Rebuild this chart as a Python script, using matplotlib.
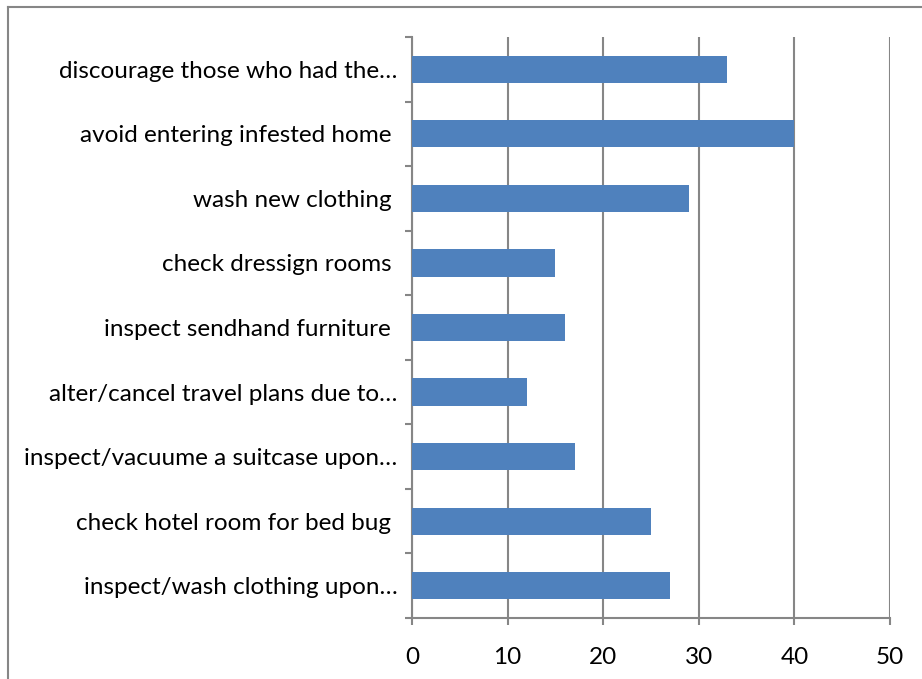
import matplotlib
matplotlib.use("Agg")
import matplotlib.pyplot as plt
from matplotlib.lines import Line2D
import numpy as np

categories = [
    "discourage those who had the\u2026",
    "avoid entering infested home ",
    "wash new clothing ",
    "check dressign rooms ",
    "inspect sendhand furniture ",
    "alter/cancel travel plans due to\u2026",
    "inspect/vacuume a suitcase upon\u2026",
    "check hotel room for bed bug ",
    "inspect/wash clothing upon\u2026",
]
values = [33, 40, 29, 15, 16, 12, 17, 25, 27]
xticks = [0, 10, 20, 30, 40, 50]

plt.rcParams['font.family'] = ['Lato', 'DejaVu Sans']

fig = plt.figure(figsize=(9.22, 6.79), dpi=100)
ax = fig.add_axes([412/922, 1-618/679, (890-412)/922, (618-37)/679])

n = len(categories)
y = np.arange(n)[::-1]
ax.barh(y, values, height=0.42, color='#4F81BD', zorder=3)
ax.set_xlim(0, 50)
ax.set_ylim(-0.5, n-0.5)
ax.set_xticks(xticks)
ax.set_xticklabels([str(t) for t in xticks], fontsize=17.5)
ax.set_yticks(y)
ax.set_yticklabels(categories, fontsize=17.5)
ax.set_yticks(np.arange(-0.5, n, 1.0), minor=True)
ax.tick_params(axis='y', which='major', length=0, pad=10.5)
ax.tick_params(axis='y', which='minor', length=5, width=1.5, color='#868686', direction='out')
ax.tick_params(axis='x', which='major', length=5, width=1.5, color='#868686', direction='out', pad=16)
ax.grid(axis='x', color='#868686', linewidth=1.5, zorder=0)
for s in ['top', 'right']:
    ax.spines[s].set_visible(False)
for s in ['left', 'bottom']:
    ax.spines[s].set_color('#868686')
    ax.spines[s].set_linewidth(1.5)

# outer chart border (left and top visible)
fig.add_artist(Line2D([8/922, 8/922], [0, 1-7/679], transform=fig.transFigure, color='#868686', linewidth=1.5))
fig.add_artist(Line2D([8/922, 1], [1-7/679, 1-7/679], transform=fig.transFigure, color='#868686', linewidth=1.5))

fig.savefig('out.png', dpi=100)
